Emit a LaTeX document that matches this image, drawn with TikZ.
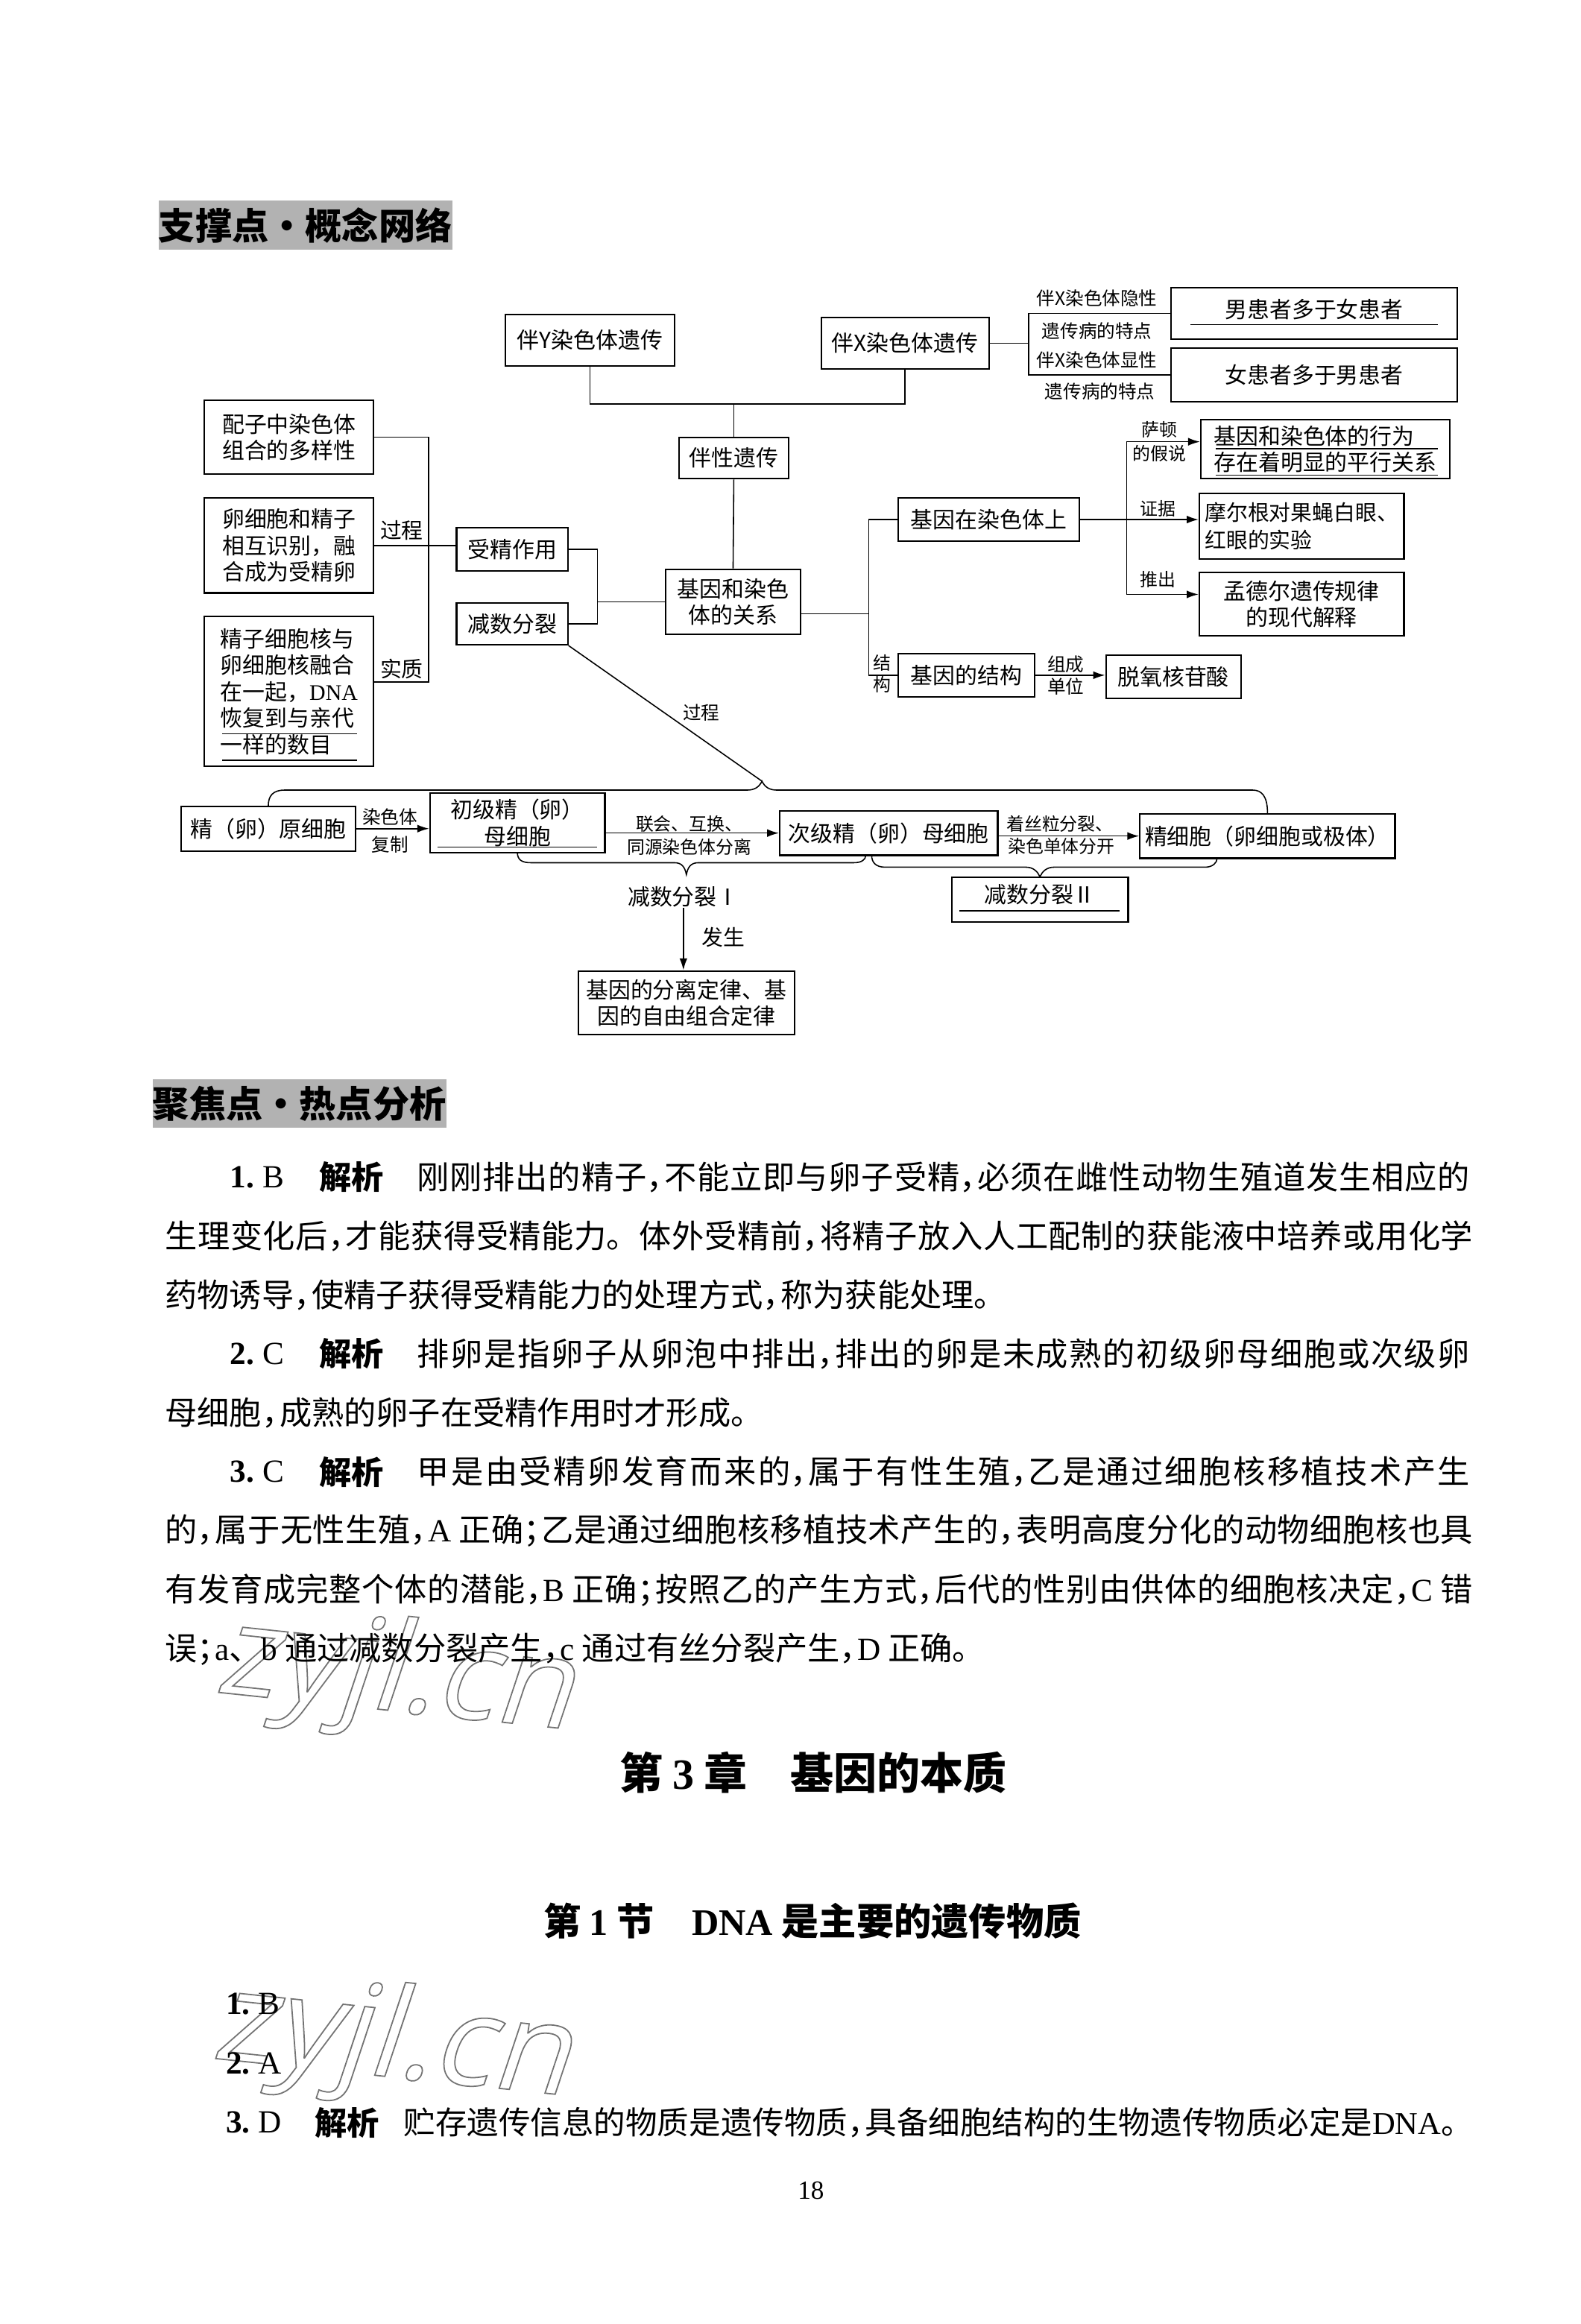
\documentclass[tikz,border=0pt]{standalone}
\usepackage{fontspec}
\setmainfont{Noto Sans CJK SC}
\newfontfamily\lat{Liberation Serif}
\newfontfamily\wmfont{Open Sans}[FakeSlant=0.22]
\usetikzlibrary{arrows.meta}
\XeTeXlinebreaklocale "zh"
\XeTeXlinebreakskip=0pt plus 2pt
\newdimen\uu \uu=0.5659pt
\newcommand\fs[2]{\fontsize{#1}{#2}\selectfont}
\newcommand\hcm{，\kern-0.45em}
\newcommand\hsm{；\kern-0.45em}
\newcommand\jline[2]{\parbox{#1\uu}{\parindent=0pt\parfillskip=0pt\relax #2}}
\definecolor{wmgray}{gray}{0.45}
\newcommand\outlined[1]{\color{wmgray}\special{pdf:literal direct 1 Tr 0.5 w}#1\special{pdf:literal direct 0 Tr}}
\newcommand\bx[6][]{\node[box,minimum width=#4*\uu,minimum height=#5*\uu,#1] (#2) at (#3) {#6};}
\begin{document}
\begin{tikzpicture}[x=0.0198874cm,y=-0.0198874cm,
 box/.style={draw,line width=0.6pt,inner sep=0pt,align=center,font=\fs{8.5}{10.1}},
 ln/.style={line width=0.45pt},
 arr/.style={line width=0.45pt,-{Latex[length=4.5pt,width=3pt]}},
 sl/.style={inner sep=0pt,font=\fs{7}{8}},
 xl/.style={inner sep=0pt,font=\fs{6.8}{8}},
 ml/.style={inner sep=0pt,font=\fs{8.2}{9.5}},
 hdr/.style={fill=black!30,inner sep=0pt,minimum width=188*\uu,minimum height=33*\uu,font=\fs{14}{16}\bfseries},
 body/.style={inner sep=0pt,anchor=west,font=\fs{12.3}{14}},
 bbold/.style={inner sep=0pt,anchor=west,font=\fs{12.3}{14}\bfseries},
 wm/.style={inner sep=0pt,font=\wmfont\fs{48}{54},rotate=-6}]
\useasboundingbox (0,0) rectangle (1066,1567.8);
\fill[white] (0,0) rectangle (1066,1567.8);

% ---------- header 1
\node[hdr] (h1) at (206,152) {支撑点・概念网络};

% ---------- concept map boxes
\bx{bY}{398,229.5}{114}{35}{伴Y染色体遗传}
\bx{bX}{610.5,231.5}{113}{35}{伴X染色体遗传}
\bx{nan}{886.5,211.5}{193}{35}{}
\node[box,draw=none] (nant) at (886.5,208.6) {男患者多于女患者};
\bx{nv}{886.5,253}{193}{36}{女患者多于男患者}
\bx{bxyc}{495,309}{74}{28}{伴性遗传}
\bx{gxr}{494.5,406}{91}{44}{基因和染色\\体的关系}
\bx{pz}{195,295}{114}{50}{配子中染色体\\组合的多样性}
\bx{lxb}{195,368}{114}{64}{卵细胞和精子\\相互识别，融\\合成为受精卵}
\bx[align=left]{jzx}{195,466.5}{114}{101}{精子细胞核与\\卵细胞核融合\\在一起，{\lat DNA}\\恢复到与亲代\\一样的数目}
\bx{sjzy}{345.5,370.5}{75}{29}{受精作用}
\bx{jsfl}{345.5,421}{75}{28}{减数分裂}
\bx{gzs}{667,350.5}{122}{29}{基因在染色体上}
\bx{gjg}{652,455.5}{92}{29}{基因的结构}
\bx[align=left]{r1}{894,303}{168}{40}{基因和染色体的行为\\存在着明显的平行关系}
\bx[align=left,font=\fs{8.2}{10.6}]{r2}{878,355}{138}{44}{摩尔根对果蝇白眼、\\红眼的实验}
\bx{r3}{878,407.5}{138}{43}{孟德尔遗传规律\\的现代解释}
\bx{txh}{791.5,456.5}{91}{29}{脱氧核苷酸}
\bx{yxb}{181,559}{118}{30}{精（卵）原细胞}
\bx{cj}{349,555}{118}{40}{初级精（卵）\\母细胞}
\bx{cij}{599.5,562}{147}{30}{次级精（卵）母细胞}
\bx{jxb}{855,564}{172}{30}{精细胞（卵细胞或极体）}
\bx{j2}{701.5,607}{119}{30}{}
\node[box,draw=none] (j2t) at (701.5,603.5) {减数分裂Ⅱ};
\bx{law}{463,676.5}{146}{43}{基因的分离定律、基\\因的自由组合定律}

% underlines inside boxes
\draw[ln] (803,219)--(970,219);
\draw[ln] (820,302.6)--(970,302.6);
\draw[ln] (820,320.5)--(970,320.5);
\draw[ln] (150,495)--(241,495);
\draw[ln] (150,513)--(241,513);
\draw[ln] (295,571.5)--(403,571.5);
\draw[ln] (647,614.5)--(755,614.5);

% ---------- connectors
\coordinate (tb) at (495,272.5);
\draw[ln] (bY.south) |- (tb) -| (bX.south);
\draw[ln] (tb) -- (bxyc.north);
\draw[ln] (bxyc.south) -- (gxr.north);
\coordinate (bxv) at (694,231.5);
\draw[ln] (bX.east) -- (bxv);
\draw[ln] (nan.west) -| (bxv) |- (nv.west);

\coordinate (lbT) at (289,295);
\coordinate (lbB) at (289,460);
\draw[ln] (pz.east) -- (lbT) -- (lbB) -- (lbB -| jzx.east);
\draw[ln] (lxb.east) -- (lxb.east -| sjzy.west);

\coordinate (mj) at (403,406);
\draw[ln] (sjzy.east) -| (mj) |- (jsfl.east);
\draw[ln] (mj) -- (mj -| gxr.west);

\coordinate (rv) at (586,414);
\draw[ln] (rv -| gxr.east) -- (rv);
\draw[ln] (gzs.west) -| (rv) |- (gjg.west);

\coordinate (sv1) at (760,298);
\coordinate (sv2) at (760,350.5);
\coordinate (sv3) at (760,401);
\draw[ln] (gzs.east) -- (sv2);
\draw[ln] (sv1) -- (sv3);
\draw[arr] (sv1) -- (sv1 -| r1.west);
\draw[arr] (sv2) -- (sv2 -| r2.west);
\draw[arr] (sv3) -- (sv3 -| r3.west);
\draw[arr] (gjg.east) -- (gjg.east -| txh.west);

% bottom row
\draw[arr] (yxb.east) -- (yxb.east -| cj.west);
\draw[arr] (cj.east |- cij.west) -- (cij.west);
\draw[arr] (cij.east |- jxb.west) -- (jxb.west);

% top brace and diagonal
\coordinate (tipT) at (514,527);
\draw[ln] (yxb.north) .. controls (181,537) and (184,533) .. (192,533) -- (504,533)
  .. controls (509,533) and (512,531) .. (tipT)
  .. controls (516,531) and (519,533) .. (524,533) -- (845,533)
  .. controls (851,533) and (855,537) .. (jxb.north);
\draw[ln] (jsfl.south east) -- (tipT);

% bottom braces
\coordinate (b1s) at (349,575);
\coordinate (tipI) at (463,590);
\coordinate (b1e) at (584,577);
\draw[ln] (b1s) .. controls (349,580) and (352,582) .. (358,582) -- (455,582)
  .. controls (460,582) and (462,585) .. (tipI)
  .. controls (464,585) and (466,582) .. (471,582) -- (576,582)
  .. controls (581,582) and (584,580) .. (b1e);
\coordinate (b2s) at (588,577);
\coordinate (b2e) at (821,579);
\draw[ln] (b2s) .. controls (588,582) and (591,585) .. (597,585) -- (692,585)
  .. controls (697,585) and (700,588) .. (j2.north)
  .. controls (703,588) and (706,585) .. (711,585) -- (813,585)
  .. controls (818,585) and (821,582) .. (b2e);

% ---------- labels
\node[sl] (lb1) at (740,201) {伴X染色体隐性};
\node[sl] (lb2) at (740,223.5) {遗传病的特点};
\node[sl] (lb3) at (740,243) {伴X染色体显性};
\node[sl] (lb4) at (742,264) {遗传病的特点};
\node[ml] (lgc) at (271,358) {过程};
\node[ml] (lsz) at (271,451) {实质};
\node[sl] (lgc2) at (473,481) {过程};
\node[xl] (lst1) at (782,290) {萨顿};
\node[xl] (lst2) at (782,306) {的假说};
\node[xl] (lzj) at (781,343) {证据};
\node[xl] (ltc) at (781,391) {推出};
\node[xl] (ljg1) at (595,447) {结};
\node[xl] (ljg2) at (595,462) {构};
\node[sl] (lzc1) at (719,448) {组成};
\node[sl] (lzc2) at (719,463) {单位};
\node[sl] (lrs1) at (263,551) {染色体};
\node[sl] (lrs2) at (263,570) {复制};
\node[xl] (llh1) at (465,556) {联会、互换、};
\node[xl] (llh2) at (465,571.6) {同源染色体分离};
\node[xl] (lzs1) at (715,556) {着丝粒分裂、};
\node[xl] (lzs2) at (716,571) {染色单体分开};
\node[ml,font=\fs{8.5}{10}] (lj1) at (461,605) {减数分裂Ⅰ};
\node[ml] (lfs) at (488,632.5) {发生};
\draw[arr] (lj1.south) -- (lj1.south |- law.north);

% ---------- watermarks (drawn under text)
\node[wm] (wm1) at (266,1132) {\outlined{zyjl.cn}};
\node[wm] (wm2) at (264,1379) {\outlined{zyjl.cn}};

% ---------- header 2 and answers
\node[hdr] (h2) at (202,744.5) {聚焦点・热点分析};

\node[body] (p1n) at (155,794) {{\lat\bfseries 1.}{\lat\ B}};
\node[bbold] (p1h) at (215,794) {解析};
\node[body] (p1a) at (281,794) {\jline{710}{刚刚排出的精子\hcm 不能立即与卵子受精\hcm 必须在雌性动物生殖道发生相应的}};
\node[body] (p1b) at (111,833.8) {\jline{882}{生理变化后\hcm 才能获得受精能力。体外受精前\hcm 将精子放入人工配制的获能液中培养或用化学}};
\node[body] (p1c) at (111,873.6) {药物诱导\hcm 使精子获得受精能力的处理方式\hcm 称为获能处理。};

\node[body] (p2n) at (155,913.4) {{\lat\bfseries 2.}{\lat\ C}};
\node[bbold] (p2h) at (215,913.4) {解析};
\node[body] (p2a) at (281,913.4) {\jline{710}{排卵是指卵子从卵泡中排出\hcm 排出的卵是未成熟的初级卵母细胞或次级卵}};
\node[body] (p2b) at (111,953.2) {母细胞\hcm 成熟的卵子在受精作用时才形成。};

\node[body] (p3n) at (155,993) {{\lat\bfseries 3.}{\lat\ C}};
\node[bbold] (p3h) at (215,993) {解析};
\node[body] (p3a) at (281,993) {\jline{710}{甲是由受精卵发育而来的\hcm 属于有性生殖\hcm 乙是通过细胞核移植技术产生}};
\node[body] (p3b) at (111,1032.8) {\jline{882}{的\hcm 属于无性生殖\hcm {\lat A} 正确\hsm 乙是通过细胞核移植技术产生的\hcm 表明高度分化的动物细胞核也具}};
\node[body] (p3c) at (111,1072.6) {\jline{882}{有发育成完整个体的潜能\hcm {\lat B} 正确\hsm 按照乙的产生方式\hcm 后代的性别由供体的细胞核决定\hcm {\lat C} 错}};
\node[body] (p3d) at (111,1112.4) {误\hsm {\lat a}、{\lat b} 通过减数分裂产生\hcm {\lat c} 通过有丝分裂产生\hcm {\lat D} 正确。};

% ---------- chapter / section titles
\node[inner sep=0pt,font=\fs{16.5}{18}\bfseries] (t1) at (548.5,1196) {第 {\lat\bfseries 3} 章\quad 基因的本质};
\node[inner sep=0pt,font=\fs{14.3}{17}\bfseries] (t2) at (548,1296) {第 {\lat\bfseries 1} 节\quad {\lat\bfseries DNA} 是主要的遗传物质};

\node[body] (q1) at (152,1352) {{\lat\bfseries 1.}{\lat\ B}};
\node[body] (q2) at (152,1392) {{\lat\bfseries 2.}{\lat\ A}};
\node[body] (q3n) at (152,1432) {{\lat\bfseries 3.}{\lat\ D}};
\node[bbold] (q3h) at (212,1432) {解析};
\node[body,font=\fs{12.1}{14}] (q3a) at (272,1432) {贮存遗传信息的物质是遗传物质\hcm 具备细胞结构的生物遗传物质必定是{\lat DNA}。};

\node[inner sep=0pt,font=\lat\fs{10}{12}] (pg) at (547,1478) {18};
\end{tikzpicture}
\end{document}
